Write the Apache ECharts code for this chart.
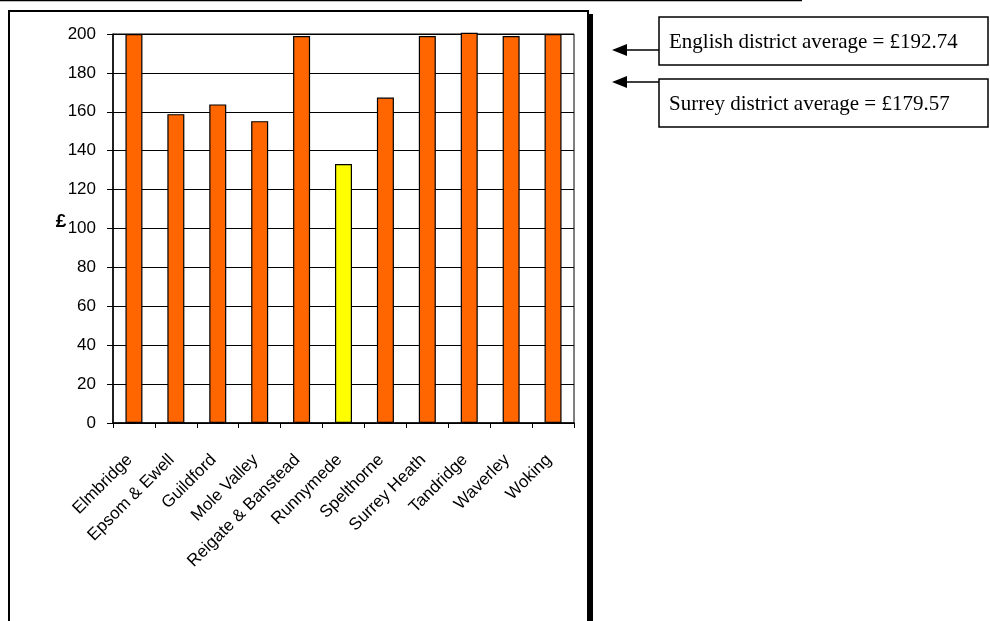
<!DOCTYPE html>
<html>
<head>
<meta charset="utf-8">
<style>
  html, body { margin: 0; padding: 0; background: #fff; }
  #chart { width: 990px; height: 621px; }
</style>
<script src="https://cdn.jsdelivr.net/npm/echarts@6/dist/echarts.min.js"></script>
</head>
<body>
<div id="chart"></div>
<script>
// Spending per head by Surrey district (£)
const districts = ['Elmbridge', 'Epsom & Ewell', 'Guildford', 'Mole Valley', 'Reigate & Banstead',
  'Runnymede', 'Spelthorne', 'Surrey Heath', 'Tandridge', 'Waverley', 'Woking'];
const spend = [200, 158.8, 163.8, 155.2, 199, 133.2, 167.3, 199, 200.6, 199, 200];
const highlighted = 'Runnymede';
const yTicks = { min: 0, max: 200, interval: 20 };
const noteLines = ['English district average = £192.74', 'Surrey district average = £179.57'];

const chart = echarts.init(document.getElementById('chart'), null, { renderer: 'canvas' });

const barData = districts.map((d, i) => ({
  value: spend[i],
  itemStyle: { color: d === highlighted ? '#FFFF00' : '#FF6600' }
}));

// Annotation boxes with left-pointing arrows
const noteBoxes = [];
const boxTops = [17, 79];
const arrowYs = [50, 82];
noteLines.forEach((txt, i) => {
  const top = boxTops[i];
  const arrowY = arrowYs[i];
  noteBoxes.push(
    { type: 'rect', shape: { x: 659, y: top, width: 329, height: 48 },
      style: { fill: '#fff', stroke: '#000', lineWidth: 1.5 } },
    { type: 'text', x: 669, y: top + 25,
      style: { text: txt, font: '21px "Liberation Serif", "Times New Roman", serif',
        fill: '#000', verticalAlign: 'middle' } },
    { type: 'line', shape: { x1: 626, y1: arrowY, x2: 659, y2: arrowY },
      style: { stroke: '#000', lineWidth: 1.5 } },
    { type: 'polygon', shape: { points: [[612, arrowY], [627, arrowY - 6], [627, arrowY + 6]] },
      style: { fill: '#000' } }
  );
});

chart.setOption({
  animation: false,
  backgroundColor: '#fff',
  grid: { left: 113, right: 416, top: 34, bottom: 198, show: true,
    borderColor: '#000', borderWidth: 1, backgroundColor: 'transparent' },
  xAxis: {
    type: 'category',
    data: districts,
    boundaryGap: true,
    axisLine: { lineStyle: { color: '#000', width: 1.5 } },
    axisTick: { show: true, length: 5, lineStyle: { color: '#000' } },
    axisLabel: { interval: 0, rotate: 45, margin: 30, padding: [0, 6, 0, 0], color: '#000',
      fontFamily: '"Liberation Sans", Arial, sans-serif', fontSize: 17 }
  },
  yAxis: {
    type: 'value',
    min: yTicks.min, max: yTicks.max, interval: yTicks.interval,
    axisLine: { show: true, lineStyle: { color: '#000', width: 1.5 } },
    axisTick: { show: true, length: 6, lineStyle: { color: '#000' } },
    axisLabel: { margin: 17, color: '#000',
      fontFamily: '"Liberation Sans", Arial, sans-serif', fontSize: 17 },
    splitLine: { show: true, lineStyle: { color: '#000', width: 1 } }
  },
  series: [{
    type: 'bar',
    data: barData,
    barWidth: 17,
    clip: false,
    itemStyle: { borderColor: '#000', borderWidth: 1.2 }
  }],
  graphic: [
    // page rule across the top
    { type: 'line', shape: { x1: 0, y1: 0.5, x2: 802, y2: 0.5 },
      style: { stroke: '#000', lineWidth: 1.5 }, z: 100 },
    // outer chart frame
    { type: 'rect', shape: { x: 9, y: 11, width: 579, height: 640 },
      style: { fill: 'none', stroke: '#000', lineWidth: 2 }, z: 100 },
    // heavy right edge
    { type: 'rect', shape: { x: 588, y: 14, width: 5, height: 640 },
      style: { fill: '#000' }, z: 100 },
    // y-axis unit
    { type: 'text', x: 61, y: 222,
      style: { text: '£', font: 'bold 19px "Liberation Sans", Arial, sans-serif',
        fill: '#000', align: 'center', verticalAlign: 'middle' }, z: 100 }
  ].concat(noteBoxes)
});
</script>
</body>
</html>
